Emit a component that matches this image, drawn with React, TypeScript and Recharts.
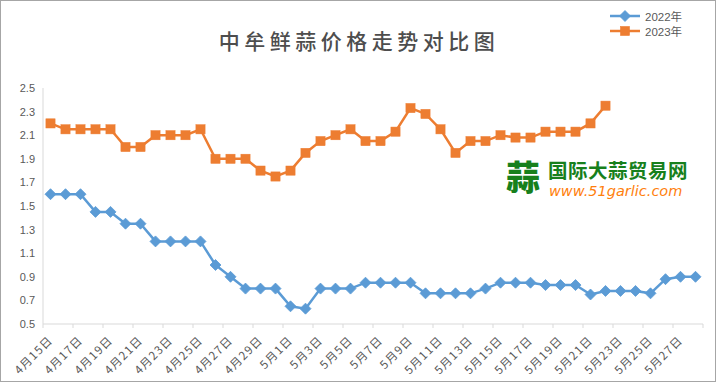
import React from 'react';
import { LineChart, Line, XAxis, YAxis, Legend } from 'recharts';

const dates = [
  '4月15日','4月16日','4月17日','4月18日','4月19日','4月20日','4月21日','4月22日','4月23日','4月24日',
  '4月25日','4月26日','4月27日','4月28日','4月29日','4月30日','5月1日','5月2日','5月3日','5月4日',
  '5月5日','5月6日','5月7日','5月8日','5月9日','5月10日','5月11日','5月12日','5月13日','5月14日',
  '5月15日','5月16日','5月17日','5月18日','5月19日','5月20日','5月21日','5月22日','5月23日','5月24日',
  '5月25日','5月26日','5月27日','5月28日',
];

const price2022 = [
  1.6, 1.6, 1.6, 1.45, 1.45, 1.35, 1.35, 1.2, 1.2, 1.2,
  1.2, 1.0, 0.9, 0.8, 0.8, 0.8, 0.65, 0.63, 0.8, 0.8,
  0.8, 0.85, 0.85, 0.85, 0.85, 0.76, 0.76, 0.76, 0.76, 0.8,
  0.85, 0.85, 0.85, 0.83, 0.83, 0.83, 0.75, 0.78, 0.78, 0.78,
  0.76, 0.88, 0.9, 0.9,
];

const price2023 = [
  2.2, 2.15, 2.15, 2.15, 2.15, 2.0, 2.0, 2.1, 2.1, 2.1,
  2.15, 1.9, 1.9, 1.9, 1.8, 1.75, 1.8, 1.95, 2.05, 2.1,
  2.15, 2.05, 2.05, 2.13, 2.33, 2.28, 2.15, 1.95, 2.05, 2.05,
  2.1, 2.08, 2.08, 2.13, 2.13, 2.13, 2.2, 2.35,
];

const yTicks = [0.5, 0.7, 0.9, 1.1, 1.3, 1.5, 1.7, 1.9, 2.1, 2.3, 2.5];

const series = [
  { key: 'y2022', name: '2022年', color: '#5B9BD5', shape: 'diamond' },
  { key: 'y2023', name: '2023年', color: '#ED7D31', shape: 'square' },
];

const data = dates.map((d, i) => ({
  date: d,
  y2022: price2022[i] ?? null,
  y2023: price2023[i] ?? null,
}));

const TEXT = '#595959';
const AXIS = '#D9D9D9';
const LEGEND_H = 30;

const Marker = ({ cx, cy, color, shape }: any) => {
  if (cx == null || cy == null) return null;
  if (shape === 'diamond') {
    const r = 5.5;
    return (
      <polygon
        points={`${cx},${cy - r} ${cx + r},${cy} ${cx},${cy + r} ${cx - r},${cy}`}
        fill={color}
        stroke={color}
        strokeWidth={0.8}
      />
    );
  }
  const s = 4.6;
  return <rect x={cx - s} y={cy - s} width={s * 2} height={s * 2} fill={color} stroke={color} strokeWidth={0.5} />;
};

const XTick = (props: any) => {
  const { x, y, payload } = props;
  const idx = payload?.index ?? props.index ?? 0;
  const half = 7.5;
  const els: any[] = [];
  if (idx % 2 === 0) {
    els.push(<line key="l" x1={x - half} x2={x - half} y1={y} y2={y + 4} stroke={AXIS} strokeWidth={1} />);
    const tx = x + 3;
    const ty = y + 17;
    els.push(
      <text
        key="t"
        x={tx}
        y={ty}
        textAnchor="end"
        fontSize={11.5}
        letterSpacing={1.2}
        fill={TEXT}
        fontFamily="'Noto Sans CJK SC', sans-serif"
        transform={`rotate(-45, ${tx}, ${ty})`}
      >
        {payload.value}
      </text>
    );
  }
  if (idx === dates.length - 1) {
    els.push(<line key="r" x1={x + half} x2={x + half} y1={y} y2={y + 4} stroke={AXIS} strokeWidth={1} />);
  }
  return <g>{els}</g>;
};

const LegendContent = () => (
  <div style={{ fontFamily: "'Liberation Sans', 'Noto Sans CJK SC', sans-serif", fontSize: 11.5, color: TEXT, height: LEGEND_H }}>
    {series.map((s) => (
      <div key={s.key} style={{ display: 'flex', alignItems: 'center', height: 15 }}>
        <svg width={32} height={14} style={{ marginRight: 4 }}>
          <line x1={1} x2={31} y1={7} y2={7} stroke={s.color} strokeWidth={2.5} />
          <Marker cx={16} cy={7} color={s.color} shape={s.shape} />
        </svg>
        <span>{s.name}</span>
      </div>
    ))}
  </div>
);

export default function App() {
  return (
    <div style={{ position: 'absolute', left: 0, top: 0, width: 718, height: 383, background: '#fff', overflow: 'hidden' }}>
      <div
        style={{
          position: 'absolute',
          left: 0,
          top: 0,
          width: 714,
          height: 380,
          border: '1px solid #A6A6A6',
        }}
      />
      <div
        style={{
          position: 'absolute',
          left: 0,
          top: 26,
          width: 718,
          textAlign: 'center',
          fontFamily: "'Noto Sans CJK SC', sans-serif",
          fontSize: 21,
          fontWeight: 500,
          letterSpacing: 4.5,
          color: '#4d4d4d',
          lineHeight: '28px',
        }}
      >
        中牟鲜蒜价格走势对比图
      </div>
      <div style={{ position: 'absolute', left: 506, top: 156, width: 200, height: 45 }}>
        <div
          style={{
            position: 'absolute',
            left: 0,
            top: 0,
            fontFamily: "'Noto Sans CJK SC', sans-serif",
            fontWeight: 900,
            fontSize: 34,
            lineHeight: '40px',
            color: '#17801C',
          }}
        >
          蒜
        </div>
        <div
          style={{
            position: 'absolute',
            left: 42,
            top: 4,
            fontFamily: "'Noto Sans CJK SC', sans-serif",
            fontWeight: 700,
            fontSize: 19.5,
            lineHeight: '20px',
            color: '#17801C',
            letterSpacing: 0.5,
          }}
        >
          国际大蒜贸易网
        </div>
        <div
          style={{
            position: 'absolute',
            left: 43,
            top: 28,
            fontFamily: "'DejaVu Sans', sans-serif",
            fontStyle: 'italic',
            fontSize: 14.5,
            lineHeight: '15px',
            color: '#FF7F0E',
          }}
        >
          www.51garlic.com
        </div>
      </div>
      <div style={{ position: 'absolute', left: 0, top: 0 }}>
        <LineChart width={718} height={383} data={data} margin={{ top: 88 - LEGEND_H, right: 15, bottom: 0, left: 0 }}>
          <XAxis
            dataKey="date"
            interval={0}
            padding={{ left: 7.5, right: 7.5 }}
            tickLine={false}
            tickSize={0}
            tickMargin={0}
            height={59}
            axisLine={{ stroke: AXIS, strokeWidth: 1 }}
            tick={<XTick />}
          />
          <YAxis
            type="number"
            domain={[0.5, 2.5]}
            ticks={yTicks}
            interval={0}
            width={43}
            tickLine={false}
            axisLine={{ stroke: AXIS, strokeWidth: 1 }}
            tick={{ fill: TEXT, fontSize: 11, fontFamily: "'Liberation Sans', sans-serif" }}
            tickFormatter={(v: number) => v.toFixed(1)}
          />
          <Legend
            verticalAlign="top"
            align="right"
            height={LEGEND_H}
            content={<LegendContent />}
            wrapperStyle={{ position: 'absolute', left: 609, top: 8, width: 100 }}
          />
          {series.map((s) => (
            <Line
              key={s.key}
              dataKey={s.key}
              name={s.name}
              stroke={s.color}
              strokeWidth={2.5}
              isAnimationActive={false}
              connectNulls={false}
              dot={(p: any) => <Marker key={`${s.key}-${p.index}`} cx={p.cx} cy={p.cy} color={s.color} shape={s.shape} />}
              activeDot={false}
            />
          ))}
        </LineChart>
      </div>
    </div>
  );
}
